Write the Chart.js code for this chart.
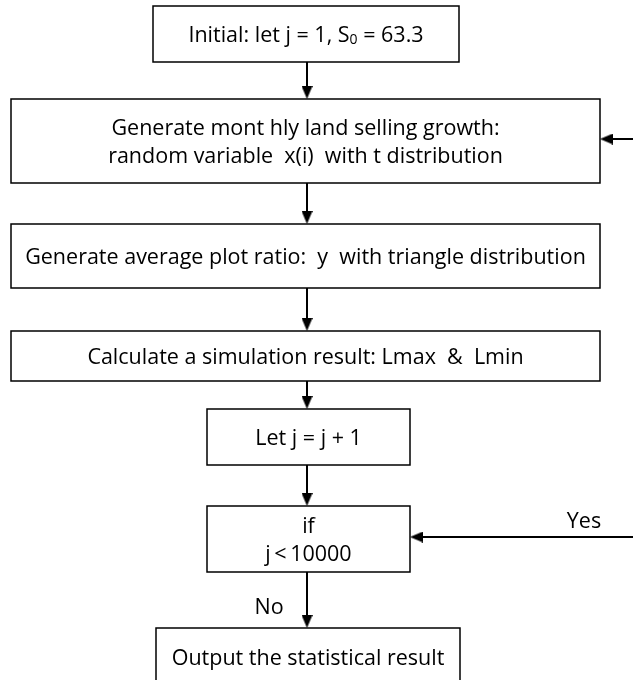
<!DOCTYPE html>
<html><head><meta charset="utf-8">
<script src="https://cdn.jsdelivr.net/npm/chart.js@4"></script>
<style>html,body{margin:0;padding:0;background:#fff}canvas{display:block}</style>
</head><body>
<canvas id="c" width="633" height="680"></canvas>
<script>
// ---- content ----
const stepTexts = [
  ['Initial: let j = 1, S_0 = 63.3'],
  ['Generate mont hly land selling growth:', 'random variable  x(i)  with t distribution'],
  ['Generate average plot ratio:  y  with triangle distribution'],
  ['Calculate a simulation result: Lmax  &  Lmin'],
  ['Let j = j + 1'],
  ['if', 'j\u2009<\u200910000'],
  ['Output the statistical result']
];
const branchLabels = ['Yes', 'No'];

// ---- layout (coordinates on a 633 x 680 value grid) ----
const boxXRange = [[153,459],[11,600],[11,600],[11,600],[207,410],[207,410],[156,460]];
const boxYRange = [[6,62],[99,183],[224,288],[331,381],[409,465],[506,572],[628,688]];
const flowX = 307;
const loopArrows = [ // [fromX, toX, y]
  [633, 600, 139],
  [633, 410, 537]
];
const labelPos = [[584, 522], [269, 608]];
const lineGap = 28;
const TEXT_DY = 1.5;
const INK = '#000';
const FONT_PX = 21.5;
const FONT = FONT_PX + 'px "Open Sans"';
const SUB_FONT = '14px "Open Sans"';

// arrowhead image (points down)
const head = document.createElement('canvas');
head.width = 11; head.height = 13;
{
  const g = head.getContext('2d');
  g.fillStyle = INK;
  g.beginPath(); g.moveTo(0,0); g.lineTo(11,0); g.lineTo(5.5,13); g.closePath(); g.fill();
}
const HEAD_HALF = 6.5;

const datasets = [];
// boxes
boxXRange.forEach((xr, i) => {
  const [x0, x1] = xr, [y0, y1] = boxYRange[i], m = (x0 + x1) / 2;
  datasets.push({
    data: [{x:m,y:y0},{x:x1,y:y0},{x:x1,y:y1},{x:x0,y:y1},{x:x0,y:y0},{x:m,y:y0}],
    showLine: true, borderColor: INK, borderWidth: 1.5, pointRadius: 0,
    borderJoinStyle: 'miter', tension: 0, fill: false, clip: false
  });
});
// vertical flow arrows
for (let i = 0; i < boxYRange.length - 1; i++) {
  const ys = boxYRange[i][1], ye = boxYRange[i+1][0];
  datasets.push({
    data: [{x:flowX,y:ys},{x:flowX,y:ye - HEAD_HALF}],
    showLine: true, borderColor: INK, borderWidth: 2,
    pointRadius: [0, 6], pointStyle: head, pointRotation: 0,
    backgroundColor: INK, clip: false
  });
}
// loop-back arrows (pointing left)
loopArrows.forEach(([xa, xb, y]) => {
  datasets.push({
    data: [{x:xa,y:y},{x:xb + HEAD_HALF,y:y}],
    showLine: true, borderColor: INK, borderWidth: 2,
    pointRadius: [0, 6], pointStyle: head, pointRotation: 90,
    backgroundColor: INK, clip: false
  });
});

function drawRich(ctx, str, cx, cy) {
  const parts = str.split(/_(\w)/);
  const segs = parts.map((t, k) => ({t, sub: k % 2 === 1}));
  let w = 0;
  segs.forEach(s => { ctx.font = s.sub ? SUB_FONT : FONT; s.w = ctx.measureText(s.t).width; w += s.w; });
  let x = cx - w / 2;
  segs.forEach(s => {
    ctx.font = s.sub ? SUB_FONT : FONT;
    ctx.fillText(s.t, x, s.sub ? cy + 5 : cy);
    x += s.w;
  });
}

const textPlugin = {
  id: 'flowText',
  afterDatasetsDraw(chart) {
    const {ctx, scales:{x, y}} = chart;
    ctx.save();
    ctx.fillStyle = INK;
    ctx.textBaseline = 'middle';
    ctx.textAlign = 'left';
    stepTexts.forEach((lines, i) => {
      const cx = x.getPixelForValue((boxXRange[i][0] + boxXRange[i][1]) / 2);
      const y1 = Math.min(boxYRange[i][1], 686);
      const cyv = (boxYRange[i][0] + y1) / 2;
      lines.forEach((ln, k) => {
        const off = (k - (lines.length - 1) / 2) * lineGap;
        drawRich(ctx, ln, cx, y.getPixelForValue(cyv + off) + TEXT_DY);
      });
    });
    ctx.font = FONT;
    ctx.textAlign = 'center';
    branchLabels.forEach((lb, i) => {
      ctx.fillText(lb, x.getPixelForValue(labelPos[i][0]), y.getPixelForValue(labelPos[i][1]));
    });
    ctx.restore();
  }
};

new Chart(document.getElementById('c'), {
  type: 'scatter',
  data: { datasets },
  options: {
    responsive: false, animation: false, devicePixelRatio: 1, events: [],
    layout: { padding: 0, autoPadding: false },
    plugins: { legend: {display:false}, tooltip: {enabled:false} },
    scales: {
      x: { type:'linear', min:0, max:633, display:false },
      y: { type:'linear', min:0, max:680, reverse:true, display:false }
    }
  },
  plugins: [textPlugin]
});
</script>
</body></html>
